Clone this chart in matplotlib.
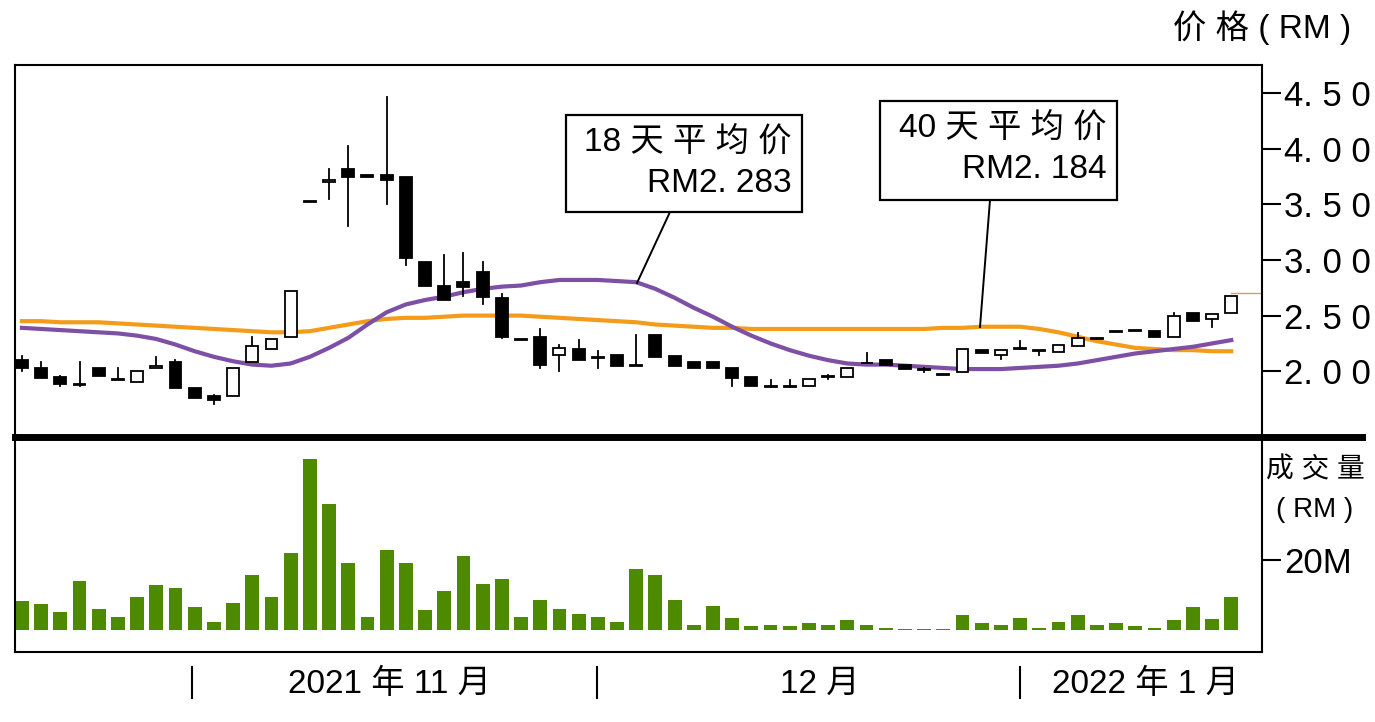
import matplotlib
matplotlib.use('Agg')
import matplotlib.pyplot as plt
from matplotlib.patches import Rectangle
from matplotlib.lines import Line2D
import numpy as np

plt.rcParams['font.family'] = ['Liberation Sans', 'Noto Sans CJK SC', 'DejaVu Sans']

# daily OHLC, RM
opens = [2.10, 2.03, 1.95, 1.88, 2.03, 1.93, 1.90, 2.03, 2.08, 1.85, 1.78, 1.78, 2.08, 2.20, 2.31, 3.52,
         3.70, 3.82, 3.76, 3.76, 3.74, 2.98, 2.77, 2.80, 2.89, 2.66, 2.28, 2.31, 2.15, 2.20, 2.12, 2.15,
         2.06, 2.33, 2.14, 2.08, 2.08, 2.03, 1.95, 1.86, 1.86, 1.87, 1.95, 1.95, 2.07, 2.10, 2.06, 2.01,
         1.97, 1.99, 2.19, 2.15, 2.20, 2.18, 2.17, 2.23, 2.29, 2.35, 2.36, 2.36, 2.31, 2.52, 2.47, 2.52]
closes = [2.03, 1.94, 1.89, 1.89, 1.96, 1.92, 2.00, 2.05, 1.85, 1.76, 1.74, 2.03, 2.23, 2.29, 2.72, 3.53,
          3.72, 3.74, 3.74, 3.72, 3.02, 2.77, 2.64, 2.76, 2.67, 2.31, 2.29, 2.06, 2.21, 2.10, 2.12, 2.05,
          2.05, 2.13, 2.05, 2.03, 2.03, 1.94, 1.87, 1.86, 1.86, 1.93, 1.95, 2.03, 2.07, 2.06, 2.02, 2.01,
          1.97, 2.20, 2.16, 2.19, 2.20, 2.18, 2.24, 2.30, 2.29, 2.35, 2.36, 2.31, 2.50, 2.45, 2.51, 2.68]
highs = [2.14, 2.08, 1.96, 2.08, 2.03, 2.03, 2.00, 2.13, 2.10, 1.85, 1.79, 2.03, 2.31, 2.29, 2.72, 3.53,
         3.82, 4.02, 3.76, 4.46, 3.74, 2.98, 3.04, 3.06, 2.98, 2.69, 2.29, 2.38, 2.24, 2.28, 2.18, 2.15,
         2.33, 2.33, 2.14, 2.08, 2.08, 2.03, 1.95, 1.92, 1.92, 1.93, 1.97, 2.03, 2.16, 2.10, 2.06, 2.03,
         1.97, 2.20, 2.19, 2.19, 2.27, 2.18, 2.24, 2.34, 2.29, 2.35, 2.36, 2.36, 2.52, 2.52, 2.51, 2.68]
lows = [2.00, 1.94, 1.87, 1.87, 1.96, 1.92, 1.90, 2.03, 1.85, 1.76, 1.71, 1.78, 2.08, 2.20, 2.31, 3.52,
        3.55, 3.30, 3.74, 3.50, 2.95, 2.77, 2.64, 2.68, 2.60, 2.30, 2.28, 2.03, 2.00, 2.10, 2.03, 2.05,
        2.05, 2.13, 2.05, 2.03, 2.03, 1.87, 1.87, 1.86, 1.86, 1.87, 1.93, 1.95, 2.07, 2.06, 2.02, 1.99,
        1.97, 1.99, 2.16, 2.11, 2.20, 2.15, 2.17, 2.23, 2.29, 2.35, 2.36, 2.31, 2.31, 2.45, 2.40, 2.52]

ma18 = [2.39, 2.38, 2.37, 2.36, 2.35, 2.34, 2.32, 2.29, 2.24, 2.18, 2.13, 2.09, 2.06, 2.05, 2.07, 2.13,
        2.21, 2.30, 2.42, 2.53, 2.60, 2.64, 2.67, 2.71, 2.74, 2.76, 2.77, 2.80, 2.82, 2.82, 2.82, 2.81,
        2.80, 2.74, 2.66, 2.57, 2.49, 2.40, 2.32, 2.25, 2.19, 2.14, 2.10, 2.07, 2.06, 2.06, 2.05, 2.04,
        2.03, 2.02, 2.02, 2.02, 2.03, 2.04, 2.05, 2.07, 2.10, 2.13, 2.16, 2.18, 2.20, 2.22, 2.25, 2.28]
ma40 = [2.45, 2.45, 2.44, 2.44, 2.44, 2.43, 2.42, 2.41, 2.40, 2.39, 2.38, 2.37, 2.36, 2.35, 2.35, 2.36,
        2.39, 2.42, 2.45, 2.47, 2.48, 2.48, 2.49, 2.50, 2.50, 2.50, 2.50, 2.49, 2.48, 2.47, 2.46, 2.45,
        2.44, 2.42, 2.41, 2.40, 2.39, 2.39, 2.38, 2.38, 2.38, 2.38, 2.38, 2.38, 2.38, 2.38, 2.38, 2.38,
        2.39, 2.39, 2.40, 2.40, 2.40, 2.38, 2.35, 2.31, 2.27, 2.24, 2.21, 2.20, 2.19, 2.19, 2.18, 2.18]

# volume, million RM
volume = [8.3, 7.4, 5.1, 14.0, 6.0, 3.7, 9.4, 12.9, 12.0, 6.6, 2.3, 7.7, 15.7, 9.4, 22.0, 48.9,
          36.0, 19.1, 3.7, 22.9, 19.1, 5.7, 11.1, 21.1, 13.1, 14.6, 3.7, 8.6, 6.0, 4.6, 3.7, 2.3,
          17.4, 15.7, 8.6, 1.4, 6.9, 3.5, 1.0, 1.4, 1.0, 1.9, 1.4, 2.8, 1.4, 0.6, 0.2, 0.2,
          0.2, 4.4, 1.9, 1.4, 3.5, 0.6, 2.4, 4.4, 1.4, 1.9, 1.0, 0.6, 2.8, 6.5, 3.2, 9.3]

price_ticks = [2.0, 2.5, 3.0, 3.5, 4.0, 4.5]
price_labels = ['2. 0 0', '2. 5 0', '3. 0 0', '3. 5 0', '4. 0 0', '4. 5 0']

purple = '#7d4fa5'
orange = '#f59b1a'
green = '#4e8a00'

fig = plt.figure(figsize=(13.75, 7.22), dpi=100)
W, H = 1375, 722

def fx(px):
    return px / W

def fy(py):
    return 1 - py / H

ax = fig.add_axes([fx(15), fy(437), fx(1262) - fx(15), fy(65) - fy(437)])
axv = fig.add_axes([fx(15), fy(652), fx(1262) - fx(15), fy(437) - fy(652)])

x = np.arange(len(opens))
bw = 0.62
for i in x:
    o, c, h, l = opens[i], closes[i], highs[i], lows[i]
    lo, hi = min(o, c), max(o, c)
    ax.plot([i, i], [hi, h], color='black', lw=1.3, zorder=3)
    ax.plot([i, i], [l, lo], color='black', lw=1.3, zorder=3)
    body = max(hi - lo, 0.008)
    fill = 'black' if c < o else 'white'
    ax.add_patch(Rectangle((i - bw / 2, lo), bw, body, facecolor=fill,
                           edgecolor='black', lw=1.3, zorder=4))

ax.plot(x, ma40, color=orange, lw=3, zorder=2)
ax.plot(x, ma18, color=purple, lw=3, zorder=2)
ax.plot([x[-1], 64.6], [2.70, 2.70], color='#d9a066', lw=1)

ax.set_xlim(-0.36, 64.6)
ax.set_ylim(1.41, 4.75)
ax.set_xticks([])
ax.yaxis.tick_right()
ax.set_yticks(price_ticks)
ax.set_yticklabels(price_labels, fontsize=25)
ax.tick_params(axis='y', direction='out', length=14, width=1.5, pad=2, right=True, left=False)

axv.bar(x, volume, width=0.72, color=green, zorder=2)
axv.set_xlim(-0.36, 64.6)
axv.set_ylim(-6.3, 55.1)
axv.set_xticks([])
axv.yaxis.tick_right()
axv.set_yticks([20])
axv.set_yticklabels(['20M'], fontsize=25)
axv.tick_params(axis='y', direction='out', length=14, width=1.5, pad=2, right=True, left=False)

for a in (ax, axv):
    for s in a.spines.values():
        s.set_linewidth(1.5)

# thick separator between panels
fig.add_artist(Line2D([fx(15), fx(1362)], [fy(437), fy(437)], color='black', lw=5))

fig.text(fx(1262), fy(28), '价 格 ( RM )', fontsize=24, ha='center', va='center')
fig.text(fx(1315), fy(470), '成 交 量', fontsize=20, ha='center', va='center')
fig.text(fx(1315), fy(510), '( RM )', fontsize=20, ha='center', va='center')

# month labels along the bottom
for px in (192, 597, 1020):
    fig.add_artist(Line2D([fx(px), fx(px)], [fy(667), fy(698)], color='black', lw=1.5))
fig.text(fx(390), fy(684), '2021 年 11 月', fontsize=24, ha='center', va='center')
fig.text(fx(820), fy(684), '12 月', fontsize=24, ha='center', va='center')
fig.text(fx(1145), fy(684), '2022 年 1 月', fontsize=24, ha='center', va='center')

# annotation boxes
boxes = [((566, 115, 802, 212), '18 天 平 均 价', 'RM2. 283', (670, 212), (637, 283)),
         ((880, 101, 1117, 200), '40 天 平 均 价', 'RM2. 184', (990, 200), (980, 327))]
for (x0, y0, x1, y1), t1, t2, p0, p1 in boxes:
    fig.add_artist(Rectangle((fx(x0), fy(y1)), fx(x1) - fx(x0), fy(y0) - fy(y1),
                             facecolor='white', edgecolor='black', lw=1.6, zorder=5))
    fig.text(fx(x1 - 10), fy(y0 + 27), t1, fontsize=24, ha='right', va='center', zorder=6)
    fig.text(fx(x1 - 10), fy(y0 + 68), t2, fontsize=24, ha='right', va='center', zorder=6)
    fig.add_artist(Line2D([fx(p0[0]), fx(p1[0])], [fy(p0[1]), fy(p1[1])], color='black', lw=1.4))

fig.savefig('out.png', dpi=100)
